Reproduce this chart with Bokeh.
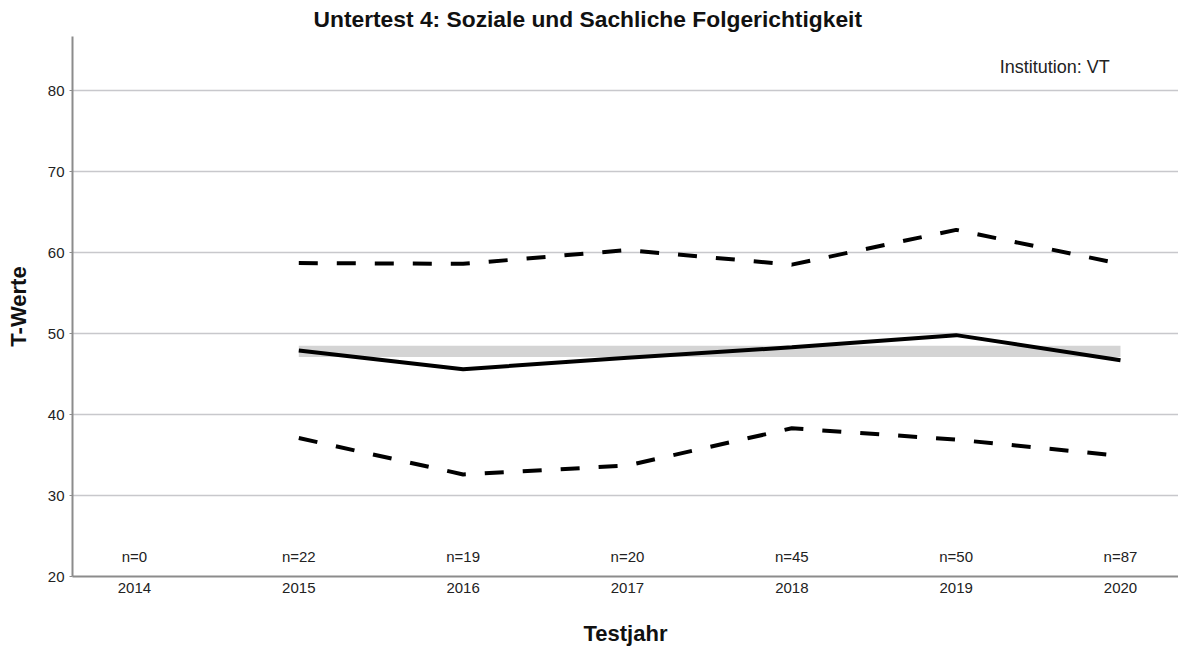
from bokeh.plotting import figure
from bokeh.models import Range1d, FixedTicker, Label
from bokeh.core.properties import value
from bokeh.embed import file_html
from bokeh.resources import INLINE

years = [2014, 2015, 2016, 2017, 2018, 2019, 2020]
n_counts = [0, 22, 19, 20, 45, 50, 87]
line_years = [2015, 2016, 2017, 2018, 2019, 2020]
mean_vals = [47.9, 45.6, 47.0, 48.3, 49.8, 46.7]
upper_vals = [58.7, 58.6, 60.3, 58.5, 62.8, 58.6]
lower_vals = [37.1, 32.6, 33.7, 38.3, 36.9, 34.9]
band_years = [2015, 2020]
band_low = 47.1
band_high = 48.5
y_ticks = [20, 30, 40, 50, 60, 70, 80]
title_text = "Untertest 4: Soziale und Sachliche Folgerichtigkeit"

FONT = "Liberation Sans"

p = figure(width=1178, height=648, output_backend="svg", toolbar_location=None,
           x_range=Range1d(2013.623, 2020.353), y_range=Range1d(20, 86.67),
           min_border_left=72, min_border_right=0, min_border_top=35, min_border_bottom=71)
p.outline_line_color = None
p.background_fill_color = "white"
p.border_fill_color = "white"

p.title.text = title_text
p.title.text_font = FONT
p.title.text_font_size = "22.8px"
p.title.text_font_style = "bold"
p.title.align = "left"
p.title.offset = 241
p.title.standoff = 8
p.title.vertical_align = "middle"
p.title.text_color = "#111111"

# axes
p.xaxis.ticker = FixedTicker(ticks=years)
p.xaxis.major_label_overrides = {y: str(y) for y in years}
p.yaxis.ticker = FixedTicker(ticks=y_ticks)
for ax in (p.xaxis[0], p.yaxis[0]):
    ax.axis_line_color = "#8c8c8c"
    ax.axis_line_width = 2
    ax.major_label_text_font = FONT
    ax.major_label_text_font_size = "15px"
    ax.major_label_text_color = "#222222"
    ax.minor_tick_line_color = None
    ax.axis_label_text_font = FONT
    ax.axis_label_text_font_style = "bold"
    ax.axis_label_text_color = "#111111"
    ax.axis_label_text_font_size = "22px"
p.xaxis.major_tick_line_color = None
p.xaxis.major_tick_out = 0
p.xaxis.major_tick_in = 0
p.xaxis.major_label_standoff = 6
p.xaxis.axis_label = "Testjahr"
p.xaxis.axis_label_standoff = 25
p.yaxis.major_tick_line_color = "#8c8c8c"
p.yaxis.major_tick_out = 3
p.yaxis.major_tick_in = 0
p.yaxis.major_label_standoff = 5
p.yaxis.axis_label = "T-Werte"
p.yaxis.axis_label_standoff = 14

p.xgrid.grid_line_color = None
p.ygrid.ticker = FixedTicker(ticks=y_ticks[1:])
p.ygrid.grid_line_color = "#c8c8cc"
p.ygrid.grid_line_width = 1.5

# band
p.quad(left=band_years[0], right=band_years[1], bottom=band_low, top=band_high,
       fill_color="#d4d4d4", line_color=None)

# lines
p.line(line_years, upper_vals, line_color="black", line_width=4, line_dash="19 19")
p.line(line_years, lower_vals, line_color="black", line_width=4, line_dash="19 19")
p.line(line_years, mean_vals, line_color="black", line_width=4)

# n labels
p.text(x=years, y=[22.5] * len(years), text=[f"n={n}" for n in n_counts],
       text_font=value(FONT), text_font_size="15px", text_color="#222222",
       text_align="center", text_baseline="middle")

p.add_layout(Label(x=2019.6, y=82.9, text="Institution: VT", text_font=FONT,
                   text_font_size="18px", text_color="#222222",
                   text_align="center", text_baseline="middle"))

open("out.html", "w").write(file_html(p, INLINE))
